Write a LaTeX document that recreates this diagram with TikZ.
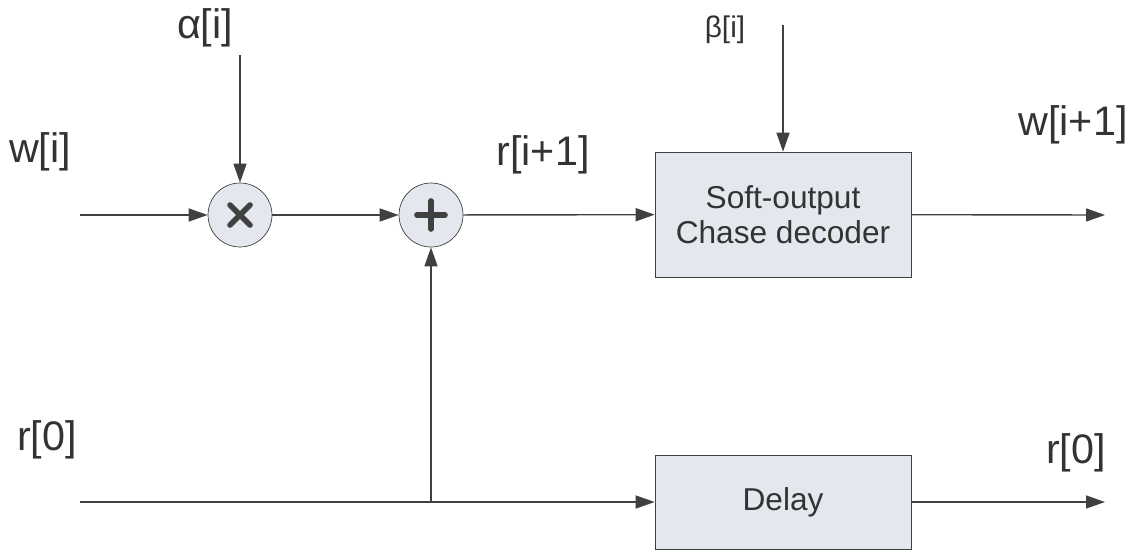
\documentclass[tikz,border=0pt]{standalone}
\usepackage{fontspec}
\setmainfont{Liberation Sans}
\usetikzlibrary{arrows.meta}

\definecolor{linecol}{RGB}{64,64,64}
\definecolor{txtcol}{RGB}{51,51,51}
\definecolor{boxfill}{RGB}{228,231,238}

\begin{document}
\begin{tikzpicture}[x=0.02cm, y=-0.02cm,
    every node/.style={text=txtcol},
    blockbox/.style={draw=linecol, fill=boxfill, minimum width=5.12cm, align=center,
        font=\fontsize{18}{20}\selectfont},
    opnode/.style={circle, draw=linecol, fill=boxfill, minimum size=1.28cm, inner sep=0pt},
    sig/.style={draw=linecol, line width=0.8pt, -{Triangle[length=0.38cm,width=0.26cm]}},
    lbl/.style={font=\fontsize{23.5}{28}\selectfont},
    smalllbl/.style={font=\fontsize{17}{20}\selectfont}]
    \useasboundingbox (0,0) rectangle (1141,551);

    % Operators
    \node[opnode] (mult) at (240,215) {};
    \node[opnode] (add) at (431,215) {};
    \draw[linecol, line width=3.2pt, line cap=round]
        ([shift={(-10,-10)}]mult.center) -- ([shift={(10,10)}]mult.center)
        ([shift={(-10,10)}]mult.center) -- ([shift={(10,-10)}]mult.center);
    \draw[linecol, line width=3.2pt, line cap=round]
        ([shift={(-14,0)}]add.center) -- ([shift={(14,0)}]add.center)
        ([shift={(0,-14)}]add.center) -- ([shift={(0,14)}]add.center);

    % Blocks
    \node[blockbox, minimum height=2.5cm] (chase) at (783,214.5) {Soft-output\\Chase decoder};
    \node[blockbox, minimum height=1.88cm] (delay) at (783,502) {Delay};

    % Free ends
    \coordinate (win) at (80,215);
    \coordinate (ain) at (240,55);
    \coordinate (bin) at (783,25);
    \coordinate (wout) at (1105,215);
    \coordinate (rin) at (80,502);
    \coordinate (rout) at (1105,502);
    \coordinate (tap) at (431,502);

    % Signals
    \draw[sig] (win) -- (mult);
    \draw[sig] (ain) -- (mult);
    \draw[sig] (mult) -- (add);
    \draw[sig] (add) -- (chase);
    \draw[sig] (bin) -- (chase);
    \draw[sig] (chase) -- (wout);
    \draw[sig] (rin) -- (delay);
    \draw[sig] (tap) -- (add);
    \draw[sig] (delay) -- (rout);

    % Labels
    \node[lbl] (wlbl) at (40,152) {w[i]};
    \node[lbl] (albl) at (205,28) {α[i]};
    \node[lbl] (rilbl) at (543,155) {r[i+1]};
    \node[smalllbl] (blbl) at (725,30) {β[i]};
    \node[lbl] (wolbl) at (1073,125) {w[i+1]};
    \node[lbl] (r0lbl) at (47,440) {r[0]};
    \node[lbl] (r0olbl) at (1076,453) {r[0]};
\end{tikzpicture}
\end{document}
